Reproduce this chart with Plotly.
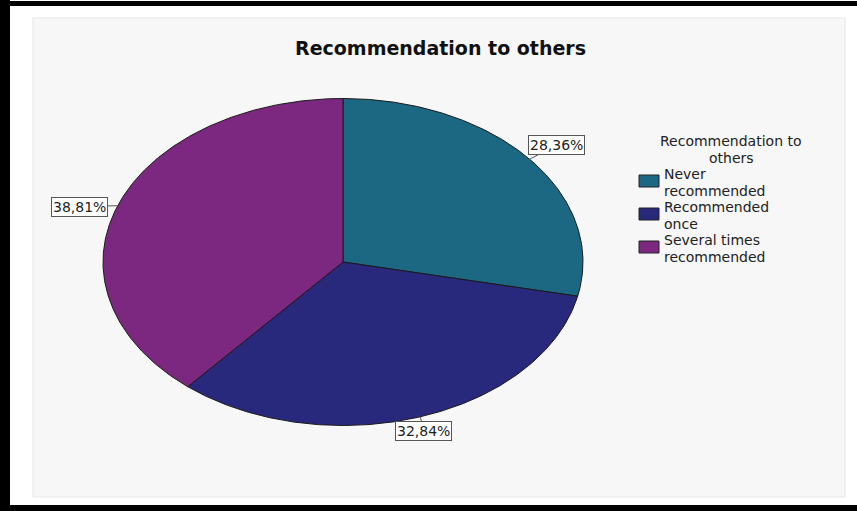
import numpy as np
import plotly.graph_objects as go

# ---- data ----
categories = ["Never recommended", "Recommended once", "Several times recommended"]
legend_lines = [["Never", "recommended"], ["Recommended", "once"], ["Several times", "recommended"]]
percentages = [28.36, 32.84, 38.81]
pct_labels = ["28,36%", "32,84%", "38,81%"]
colors = ["#1c6882", "#28287d", "#7d2880"]
title_text = "Recommendation to others"
legend_title_lines = ["Recommendation to", "others"]

# ---- geometry (pixel-like axes) ----
W, H = 857, 511
cx, cy, rx, ry = 343, 262, 240, 163.5
label_offsets = [(27, -14), (3, 14), (-38, 1)]

FONT = "DejaVu Sans"
fig = go.Figure()

total = sum(percentages)
start = 90.0
mids = []
for name, val, col in zip(categories, percentages, colors):
    sweep = val / total * 360.0
    end = start - sweep
    n = max(int(sweep * 2), 8)
    th = np.radians(np.linspace(start, end, n))
    xs = np.concatenate([[cx], cx + rx * np.cos(th), [cx]])
    ys = np.concatenate([[cy], cy - ry * np.sin(th), [cy]])
    fig.add_trace(go.Scatter(x=xs, y=ys, mode="lines", fill="toself",
                             fillcolor=col, line=dict(color="#1a1a1a", width=1),
                             name=name, showlegend=False, hoverinfo="name"))
    mids.append(np.radians((start + end) / 2))
    start = end

shapes = []
annotations = []
# background panel
shapes.append(dict(type="rect", xref="x", yref="y", x0=33, x1=845, y0=18, y1=497,
                   fillcolor="#f7f7f7", line=dict(color="#e6e6e6", width=1), layer="below"))
# black frame edges
shapes.append(dict(type="rect", xref="paper", yref="paper", x0=0, x1=10 / W, y0=0, y1=1,
                   fillcolor="black", line=dict(width=0), layer="below"))
shapes.append(dict(type="rect", xref="x", yref="y", x0=0, x1=W, y0=1, y1=6,
                   fillcolor="black", line=dict(width=0), layer="below"))
shapes.append(dict(type="rect", xref="x", yref="y", x0=0, x1=W, y0=505, y1=H,
                   fillcolor="black", line=dict(width=0), layer="below"))

# title
annotations.append(dict(x=440, y=48, xref="x", yref="y", text="<b>%s</b>" % title_text,
                        showarrow=False, font=dict(family=FONT, size=19, color="#111"),
                        xanchor="center", yanchor="middle"))

# percentage labels
for m, lab, (ax, ay) in zip(mids, pct_labels, label_offsets):
    px = cx + rx * np.cos(m)
    py = cy - ry * np.sin(m)
    annotations.append(dict(x=px, y=py, xref="x", yref="y", text=lab,
                            showarrow=True, arrowhead=0, arrowwidth=1, arrowcolor="#555",
                            ax=ax, ay=ay, font=dict(family=FONT, size=14, color="#222"),
                            bgcolor="white", bordercolor="#555", borderwidth=1, borderpad=1))

# legend (manual)
LS = 16.5
for i, t in enumerate(legend_title_lines):
    annotations.append(dict(x=731, y=141 + LS * i, xref="x", yref="y", text=t,
                            showarrow=False, font=dict(family=FONT, size=14, color="#222"),
                            xanchor="center", yanchor="middle", borderpad=0))
for i, (lines, col) in enumerate(zip(legend_lines, colors)):
    first = 174 + 33 * i
    shapes.append(dict(type="rect", xref="x", yref="y", x0=639, x1=659, y0=first + 1, y1=first + 13,
                       fillcolor=col, line=dict(color="#222", width=1)))
    for j, t in enumerate(lines):
        annotations.append(dict(x=663, y=first + LS * j, xref="x", yref="y", text=t,
                                showarrow=False, font=dict(family=FONT, size=14, color="#222"),
                                xanchor="left", yanchor="middle", borderpad=0))

fig.update_layout(
    width=W, height=H, margin=dict(l=0, r=0, t=0, b=0),
    paper_bgcolor="white", plot_bgcolor="rgba(0,0,0,0)",
    xaxis=dict(range=[0, W], visible=False, fixedrange=True, domain=[0, 1]),
    yaxis=dict(range=[H, 0], visible=False, fixedrange=True, domain=[0, 1]),
    shapes=shapes, annotations=annotations, showlegend=False,
)
fig.write_html("out.html")
